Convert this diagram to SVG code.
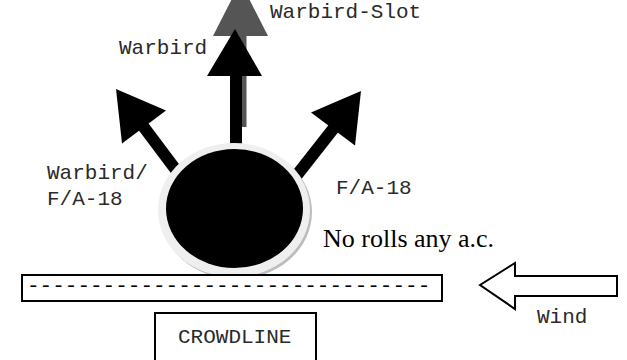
<svg xmlns="http://www.w3.org/2000/svg" width="627" height="360" viewBox="0 0 627 360">
<style>
.mono{font-family:"Liberation Mono","Courier New",monospace;font-size:21px;fill:#2a2a2a}
.serif{font-family:"Liberation Serif","Times New Roman",serif;font-size:26px;fill:#000}
.box{fill:#fff;stroke:#000;stroke-width:2}
</style>
<rect width="627" height="360" fill="#fff"/>
<g id="connectors">
  <g id="arrow-slot" fill="#555">
    <rect x="234.5" y="30" width="12" height="97"/>
    <polygon points="240.5,-18 268,36 213,36"/>
  </g>
  <g id="arrow-warbird" fill="#000">
    <rect x="230" y="70" width="12" height="85"/>
    <polygon points="235,29 262,76 207,76"/>
  </g>
  <g id="arrow-left" fill="#000">
    <line x1="140" y1="122" x2="182" y2="178" stroke="#000" stroke-width="12"/>
    <polygon points="116,89 166,110.5 122,143.5"/>
  </g>
  <g id="arrow-right" fill="#000">
    <line x1="337" y1="124" x2="293" y2="180" stroke="#000" stroke-width="12"/>
    <polygon points="361,91 311,112.5 355,145.5"/>
  </g>
</g>
<g id="circle-node">
  <ellipse cx="236" cy="212" rx="76" ry="67" fill="#bdbdbd"/>
  <ellipse cx="234" cy="210" rx="76" ry="67" fill="#efefef"/>
  <ellipse cx="234.5" cy="208.5" rx="68.5" ry="59.5" fill="#000"/>
</g>
<g id="labels">
  <text class="mono" x="270" y="18">Warbird-Slot</text>
  <text class="mono" x="119" y="54">Warbird</text>
  <text class="mono" x="47" y="179">Warbird/</text>
  <text class="mono" x="47" y="205">F/A-18</text>
  <text class="mono" x="336" y="194">F/A-18</text>
  <text class="serif" x="323" y="247">No rolls any a.c.</text>
</g>
<g id="showline">
  <rect class="box" x="22" y="275" width="420" height="26"/>
  <text class="mono" x="27" y="292" style="fill:#000">--------------------------------</text>
</g>
<g id="wind">
  <polygon class="box" points="480,285 515,263 515,276 617,276 617,296 515,296 515,309"/>
  <text class="mono" x="537" y="323">Wind</text>
</g>
<g id="crowdline">
  <rect class="box" x="155" y="313" width="161" height="60"/>
  <text class="mono" x="178" y="343">CROWDLINE</text>
</g>
</svg>
